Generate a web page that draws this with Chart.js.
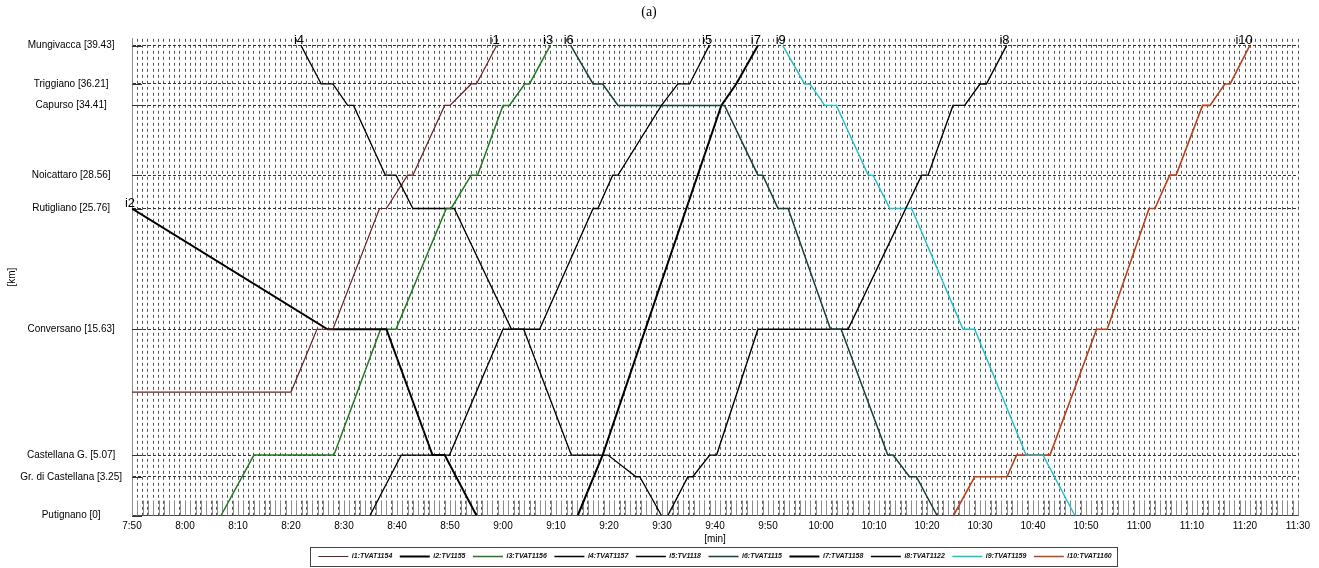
<!DOCTYPE html>
<html>
<head>
<meta charset="utf-8">
<title>Orario grafico Putignano – Mungivacca</title>
<script src="https://cdn.jsdelivr.net/npm/chart.js@4.4.1/dist/chart.umd.min.js"></script>
<style>
  html, body { margin: 0; padding: 0; background: #fff; }
  #wrap { width: 1319px; height: 568px; }
</style>
</head>
<body>
<div id="wrap"><canvas id="grafico"></canvas></div>
<script>
// stazioni della linea e progressive chilometriche
const stazioni = ['Putignano', 'Gr. di Castellana', 'Castellana G.', 'Conversano', 'Rutigliano',
                  'Noicattaro', 'Capurso', 'Triggiano', 'Mungivacca'];
const progressive = [0, 3.25, 5.07, 15.63, 25.76, 28.56, 34.41, 36.21, 39.43];

// etichette dell'asse dei tempi (una ogni 10 minuti, dalle 7:50 alle 11:30)
const etichetteOre = ['7:50', '8:00', '8:10', '8:20', '8:30', '8:40', '8:50', '9:00', '9:10', '9:20',
                      '9:30', '9:40', '9:50', '10:00', '10:10', '10:20', '10:30', '10:40', '10:50',
                      '11:00', '11:10', '11:20', '11:30'];

// corse: orari in minuti dalla mezzanotte, posizione in km
const i1Ore = [470, 500, 504.9, 507.9, 516.7, 518, 522, 523, 529, 530, 534, 535, 538.8];
const i1Km  = [10.36, 10.36, 15.63, 15.63, 25.76, 25.76, 28.56, 28.56, 34.41, 34.41, 36.21, 36.21, 39.43];

const i2Ore = [470, 506.9, 518, 526.7, 529, 535];
const i2Km  = [25.76, 15.63, 15.63, 5.07, 5.07, 0];

const i3Ore = [486.8, 493, 508.1, 516.9, 519.8, 529.3, 530.2, 534, 535.2, 540, 541.2, 544.1, 545, 548.9];
const i3Km  = [0, 5.07, 5.07, 15.63, 15.63, 25.76, 25.76, 28.56, 28.56, 34.41, 34.41, 36.21, 36.21, 39.43];

const i4Ore = [501.9, 505.7, 507.9, 510.7, 511.8, 517.8, 519.8, 523, 530.8, 541.6, 543.9, 552.9, 559.8, 565.1, 565.8, 569.9];
const i4Km  = [39.43, 36.21, 36.21, 34.41, 34.41, 28.56, 28.56, 25.76, 25.76, 15.63, 15.63, 5.07, 5.07, 3.25, 3.25, 0];

const i5Ore = [514.9, 520.8, 529.9, 540, 546.9, 557, 557.9, 560.7, 561.7, 569.9, 573, 575.2, 578.9];
const i5Km  = [0, 5.07, 5.07, 15.63, 15.63, 25.76, 25.76, 28.56, 28.56, 34.41, 36.21, 36.21, 39.43];

const i6Ore = [552.8, 557, 558.8, 561.7, 581.8, 588.1, 589, 591.9, 593.8, 601.8, 603.8, 612.6, 613.6, 616.7, 618, 621.9];
const i6Km  = [39.43, 36.21, 36.21, 34.41, 34.41, 28.56, 28.56, 25.76, 25.76, 15.63, 15.63, 5.07, 5.07, 3.25, 3.25, 0];

const i7Ore = [554.1, 558.8, 581.2, 584, 588.1];
const i7Km  = [0, 5.07, 34.41, 36.21, 39.43];

const i8Ore = [571.1, 574.9, 575.8, 579, 580.3, 588.1, 605.1, 619, 620.2, 624.9, 627.1, 630, 631.2, 635];
const i8Km  = [0, 3.25, 3.25, 5.07, 5.07, 15.63, 15.63, 28.56, 28.56, 34.41, 34.41, 36.21, 36.21, 39.43];

const i9Ore = [592.8, 596.9, 597.9, 600.7, 602.9, 608.9, 609.8, 613, 617.1, 626.8, 629, 638.7, 641.9, 647.9];
const i9Km  = [39.43, 36.21, 36.21, 34.41, 34.41, 28.56, 28.56, 25.76, 25.76, 15.63, 15.63, 5.07, 5.07, 0];

const i10Ore = [625, 629, 635.1, 636.9, 643.2, 652, 654, 661.9, 663, 665.8, 667, 672, 673.4, 676.2, 677.2, 680.9];
const i10Km  = [0, 3.25, 3.25, 5.07, 5.07, 15.63, 15.63, 25.76, 25.76, 28.56, 28.56, 34.41, 34.41, 36.21, 36.21, 39.43];

const treni = [
  { nome: 'i1',  sigla: 'TVAT1154', ore: i1Ore,  km: i1Km,  colore: '#6a1f24', spessore: 1.2 },
  { nome: 'i2',  sigla: 'TV1155',   ore: i2Ore,  km: i2Km,  colore: '#000000', spessore: 2 },
  { nome: 'i3',  sigla: 'TVAT1156', ore: i3Ore,  km: i3Km,  colore: '#237a23', spessore: 1.5 },
  { nome: 'i4',  sigla: 'TVAT1157', ore: i4Ore,  km: i4Km,  colore: '#000000', spessore: 1.3 },
  { nome: 'i5',  sigla: 'TV1118',   ore: i5Ore,  km: i5Km,  colore: '#000000', spessore: 1.3 },
  { nome: 'i6',  sigla: 'TVAT1115', ore: i6Ore,  km: i6Km,  colore: '#173f3c', spessore: 1.5 },
  { nome: 'i7',  sigla: 'TVAT1158', ore: i7Ore,  km: i7Km,  colore: '#000000', spessore: 2 },
  { nome: 'i8',  sigla: 'TVAT1122', ore: i8Ore,  km: i8Km,  colore: '#000000', spessore: 1.4 },
  { nome: 'i9',  sigla: 'TVAT1159', ore: i9Ore,  km: i9Km,  colore: '#1fc0c8', spessore: 1.4 },
  { nome: 'i10', sigla: 'TVAT1160', ore: i10Ore, km: i10Km, colore: '#b8431c', spessore: 1.6 }
];

const FONT = "'Liberation Sans', Arial, sans-serif";
Chart.defaults.font.family = FONT;
Chart.defaults.color = '#000';

// tacche interne: una per minuto sul fondo, una per stazione a sinistra
const tacche = {
  id: 'tacche',
  beforeDatasetsDraw(chart) {
    const { ctx, chartArea: a, scales: { x, y } } = chart;
    ctx.save();
    ctx.lineWidth = 1;
    ctx.strokeStyle = '#8c8c8c';
    ctx.beginPath();
    for (let m = x.min; m <= x.max; m++) {
      const px = Math.round(x.getPixelForValue(m)) + 0.5;
      ctx.moveTo(px, a.bottom);
      ctx.lineTo(px, a.bottom - 15);
    }
    ctx.stroke();
    ctx.strokeStyle = '#333';
    ctx.beginPath();
    progressive.forEach(v => {
      const py = Math.round(y.getPixelForValue(v)) + 0.5;
      ctx.moveTo(a.left, py);
      ctx.lineTo(a.left + 10, py);
    });
    ctx.stroke();
    ctx.restore();
  }
};

// nome della corsa nel punto più alto della traccia
const nomiCorse = {
  id: 'nomiCorse',
  afterDatasetsDraw(chart) {
    const { ctx, scales: { x, y } } = chart;
    ctx.save();
    ctx.font = '13px ' + FONT;
    ctx.fillStyle = '#000';
    ctx.textAlign = 'right';
    ctx.textBaseline = 'bottom';
    treni.forEach(t => {
      const k = t.km.indexOf(Math.max(...t.km));
      ctx.fillText(t.nome, x.getPixelForValue(t.ore[k]) + 3, y.getPixelForValue(t.km[k]) + 1);
    });
    ctx.restore();
  }
};

// riquadro attorno alla legenda
const cornice = {
  id: 'cornice',
  afterDraw(chart) {
    const boxes = chart.legend && chart.legend.legendHitBoxes;
    if (!boxes || !boxes.length) return;
    const l = Math.min(...boxes.map(b => b.left)) - 8;
    const r = Math.max(...boxes.map(b => b.left + b.width)) + 6;
    const t = Math.min(...boxes.map(b => b.top)) - 6;
    const b = Math.max(...boxes.map(b => b.top + b.height)) + 6;
    const ctx = chart.ctx;
    ctx.save();
    ctx.strokeStyle = '#444';
    ctx.lineWidth = 1;
    ctx.strokeRect(Math.round(l) + 0.5, Math.round(t) + 0.5, Math.round(r - l), Math.round(b - t));
    ctx.restore();
  }
};

new Chart(document.getElementById('grafico'), {
  type: 'scatter',
  data: {
    datasets: treni.map(t => ({
      label: t.nome + ':' + t.sigla,
      data: t.ore.map((o, i) => ({ x: o, y: t.km[i] })),
      showLine: true,
      borderColor: t.colore,
      backgroundColor: t.colore,
      borderWidth: t.spessore,
      pointRadius: 0,
      pointHoverRadius: 0,
      tension: 0,
      fill: false
    }))
  },
  options: {
    responsive: true,
    maintainAspectRatio: false,
    animation: false,
    layout: { padding: { left: 0, right: 21, top: 0, bottom: -2 } },
    plugins: {
      title: {
        display: true,
        text: '(a)',
        color: '#000',
        font: { family: "'Liberation Serif', 'Times New Roman', serif", size: 14, weight: 'normal' },
        padding: { top: 4, bottom: 18 }
      },
      legend: {
        position: 'bottom',
        fullSize: false,
        labels: {
          usePointStyle: true,
          pointStyle: 'line',
          pointStyleWidth: 30,
          color: '#111',
          padding: 7.5,
          font: { size: 7, style: 'italic', weight: 'bold' }
        }
      },
      tooltip: { enabled: false }
    },
    scales: {
      x: {
        type: 'linear',
        min: 470,
        max: 690,
        afterBuildTicks: s => {
          s.ticks = [];
          for (let m = 470; m <= 690; m++) s.ticks.push({ value: m });
        },
        afterFit: s => { s.height = 30; },
        ticks: {
          autoSkip: false,
          maxRotation: 0,
          padding: 5,
          font: { size: 10 },
          callback: v => (v - 470) % 10 === 0 ? etichetteOre[(v - 470) / 10] : ''
        },
        grid: { color: '#555', lineWidth: 1, drawTicks: false },
        border: { color: '#444', width: 1, dash: [3, 3] },
        title: { display: true, text: '[min]', font: { size: 10 }, padding: { top: 0, bottom: 0 } }
      },
      y: {
        min: 0,
        max: 40,
        afterBuildTicks: s => { s.ticks = progressive.map(v => ({ value: v })); },
        afterFit: s => { s.width = 132; },
        ticks: {
          crossAlign: 'center',
          padding: 10,
          font: { size: 10 },
          callback: (v, i) => stazioni[i] + ' [' + progressive[i] + ']'
        },
        grid: { color: '#333', lineWidth: 1, drawTicks: false },
        border: { color: '#8c8c8c', width: 1, dash: [3, 2] },
        title: { display: true, text: '[km]', font: { size: 10 }, padding: { top: 6, bottom: 0 } }
      }
    }
  },
  plugins: [tacche, nomiCorse, cornice]
});
</script>
</body>
</html>
